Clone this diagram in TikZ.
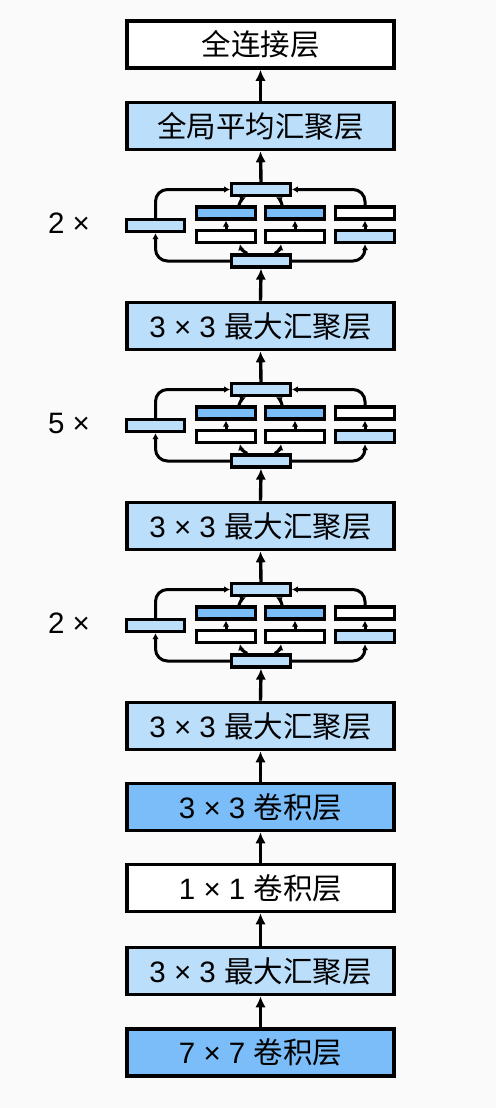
\documentclass[tikz,border=0pt]{standalone}
\usepackage{fontspec}
\setmainfont{Liberation Sans}
\newfontfamily\cjk{Noto Sans CJK SC}
\usetikzlibrary{arrows.meta,calc}
\definecolor{lb}{RGB}{187,222,251}
\definecolor{mb}{RGB}{122,189,248}
\definecolor{bg}{RGB}{250,250,250}
\tikzset{
 big/.style={draw, line width=3.6pt, minimum width=267.5pt, minimum height=47pt, inner sep=0pt, font=\fontsize{29.5}{34}\selectfont},
 sm/.style={draw, line width=3.3pt, minimum width=58.5pt, minimum height=12pt, inner sep=0pt},
 marrow/.style={line width=3.4pt, -{Latex[length=11pt,width=10.5pt]}},
 sarrow/.style={line width=3pt, -{Latex[length=6pt,width=6.5pt]}},
 lbl/.style={font=\fontsize{29.5}{34}\selectfont}
}
\newcommand\incep[3]{%
 \node[sm,fill=lb] (#1t) at (261,#2+7.5) {};
 \node[sm,fill=mb] (#1a1) at (226,#2+31) {};
 \node[sm,fill=mb] (#1b1) at (295,#2+31) {};
 \node[sm,fill=white] (#1c1) at (365,#2+31) {};
 \node[sm,fill=white] (#1a2) at (226,#2+54.5) {};
 \node[sm,fill=white] (#1b2) at (295,#2+54.5) {};
 \node[sm,fill=lb] (#1c2) at (365,#2+54.5) {};
 \node[sm,fill=lb] (#1l) at (155.5,#2+43.5) {};
 \node[sm,fill=lb] (#1bt) at (261,#2+79) {};
 \node[lbl] (#1lab) at (69,#2+41) {#3 ×};
 \draw[sarrow, rounded corners=12pt] (#1bt.west) -| (#1l.south);
 \draw[sarrow, rounded corners=12pt] (#1l.north) |- (#1t.west);
 \draw[sarrow, rounded corners=12pt] (#1bt.east) -| (#1c2.south);
 \draw[sarrow, rounded corners=12pt] (#1c1.north) |- (#1t.east);
 \draw[sarrow] (#1a2.north) -- (#1a1.south);
 \draw[sarrow] (#1b2.north) -- (#1b1.south);
 \draw[sarrow] (#1c2.north) -- (#1c1.south);
 \draw[sarrow] ([xshift=17pt]#1bt.north west) to[bend left=25] ([xshift=-17pt]#1a2.south east);
 \draw[sarrow] ([xshift=-17pt]#1bt.north east) to[bend right=25] ([xshift=17pt]#1b2.south west);
 \draw[sarrow] ([xshift=-18pt]#1a1.north east) to[bend left=25] ([xshift=16pt]#1t.south west);
 \draw[sarrow] ([xshift=18pt]#1b1.north west) to[bend right=25] ([xshift=-16pt]#1t.south east);
}
\begin{document}
\begin{tikzpicture}[x=1pt,y=-1pt]
\fill[bg] (0,0) rectangle (496,1108);
\useasboundingbox (0,0) rectangle (496,1108);
\node[big,fill=white] (fc) at (260.5,44.5) {\cjk 全连接层};
\node[big,fill=lb] (gap) at (260.5,126) {\cjk 全局平均汇聚层};
\incep{bA}{182}{2}
\node[big,fill=lb] (mp1) at (260.5,326) {3 × 3 {\cjk 最大汇聚层}};
\incep{bB}{382}{5}
\node[big,fill=lb] (mp2) at (260.5,526) {3 × 3 {\cjk 最大汇聚层}};
\incep{bC}{582}{2}
\node[big,fill=lb] (mp3) at (260.5,726) {3 × 3 {\cjk 最大汇聚层}};
\node[big,fill=mb] (c3) at (260.5,807) {3 × 3 {\cjk 卷积层}};
\node[big,fill=white] (c1) at (260.5,888) {1 × 1 {\cjk 卷积层}};
\node[big,fill=lb] (mp4) at (260.5,971) {3 × 3 {\cjk 最大汇聚层}};
\node[big,fill=mb] (c7) at (260.5,1052.5) {7 × 7 {\cjk 卷积层}};
\draw[marrow] (c7.north) -- (mp4.south);
\draw[marrow] (mp4.north) -- (c1.south);
\draw[marrow] (c1.north) -- (c3.south);
\draw[marrow] (c3.north) -- (mp3.south);
\draw[marrow] (mp3.north) -- (bCbt.south);
\draw[marrow] (bCt.north) -- (mp2.south);
\draw[marrow] (mp2.north) -- (bBbt.south);
\draw[marrow] (bBt.north) -- (mp1.south);
\draw[marrow] (mp1.north) -- (bAbt.south);
\draw[marrow] (bAt.north) -- (gap.south);
\draw[marrow] (gap.north) -- (fc.south);
\end{tikzpicture}
\end{document}
